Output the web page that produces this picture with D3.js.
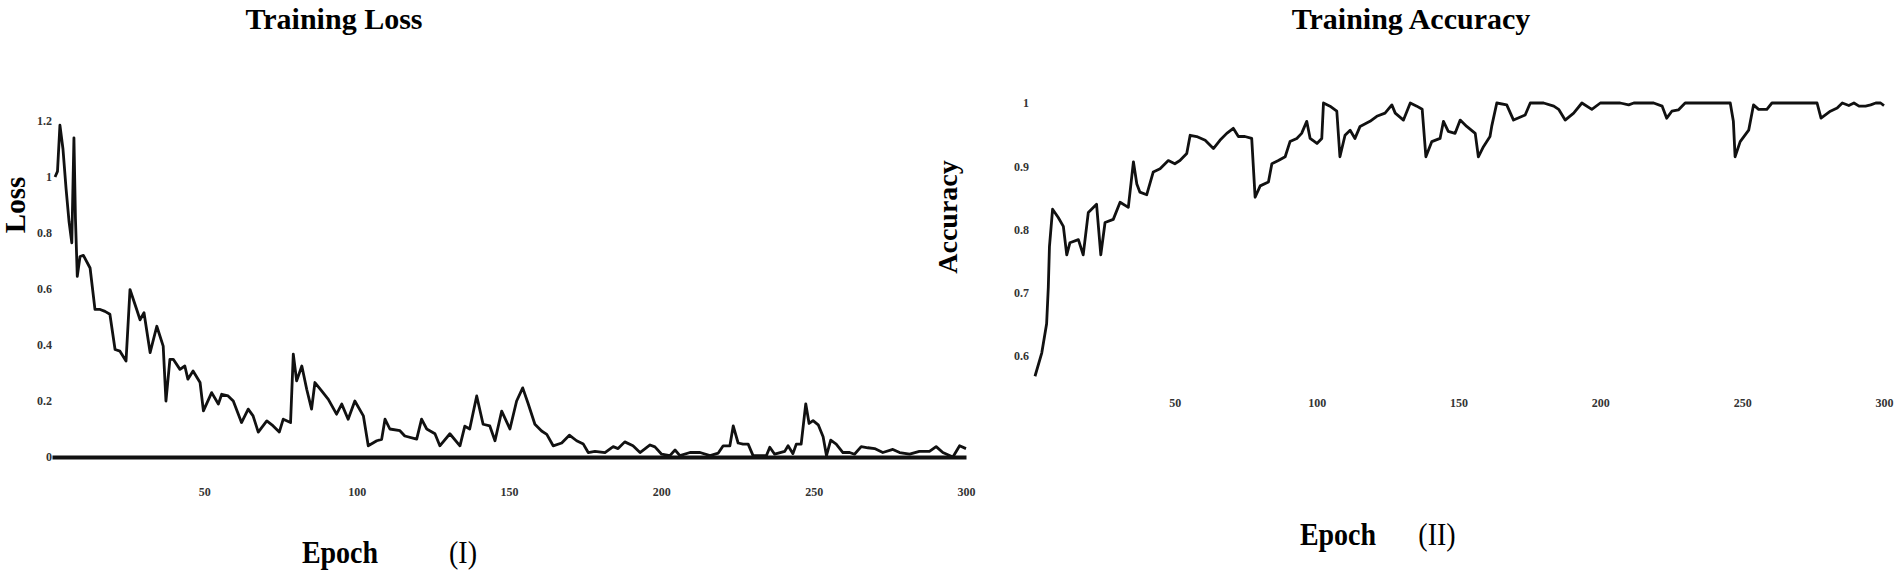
<!DOCTYPE html>
<html>
<head>
<meta charset="utf-8">
<script src="https://cdn.jsdelivr.net/npm/d3@7/dist/d3.min.js"></script>
<style>
  body { margin: 0; background: #fff; }
  svg { display: block; font-family: "Liberation Serif", "Times New Roman", serif; }
  .tick text { font-family: "Liberation Serif", "Times New Roman", serif; font-size: 12px; font-weight: bold; fill: #333; }
</style>
</head>
<body>
<svg id="chart" width="1901" height="574"></svg>
<script>
// values
const lossEpochs = [1, 1.8, 2.6, 3.6, 4.6, 5.6, 6.5, 7.2, 7.7, 8.3, 9.2, 10.3, 12.5, 14.1, 15.8, 17.4, 19, 20.7, 22.3, 24.3,
  25.6, 27.8, 28.9, 30.2, 32.2, 34.4, 36.5, 37.4, 38.7, 39.8, 42, 43.6, 44.6, 46.3, 48.6, 49.7, 52.4, 54.6, 55.7, 57.8,
  59.5, 62.2, 64.4, 66, 67.7, 70.5, 72.6, 74.6, 75.9, 78.3, 79.2, 80.3, 82, 83.6, 85.2, 86.3, 88.5, 90.7, 93.4, 95.1,
  97.2, 99.4, 102.2, 103.8, 106.6, 108.2, 109.3, 110.9, 114.2, 115.8, 119.7, 121.3, 123, 125.7, 127.3, 130.6, 133.9, 135.5, 137.1, 139.4,
  141.5, 143.7, 145.4, 147.6, 150.3, 152.5, 154.5, 156.3, 158.5, 160.7, 162.4, 164.5, 167.3, 169.8, 172.2, 174.4, 176, 178.2, 181.5, 184.2,
  185.8, 188, 190.7, 193, 196.3, 197.9, 200.1, 202.8, 204.5, 206.1, 209.4, 212.7, 216, 218.7, 220.3, 222.5, 223.6, 225.2, 226.8, 228.5,
  230.1, 234.5, 235.6, 237.2, 240.5, 241.6, 243.2, 244.3, 245.9, 247.4, 248.5, 249.8, 251.5, 253.1, 254.2, 255.6, 257.4, 259.6, 261.8, 263.4,
  265.6, 267.8, 270, 272.7, 276, 278.2, 281.5, 284.7, 288, 290.2, 292.4, 295.7, 297.9, 300]
const lossValues = [1.0, 1.02, 1.185, 1.1, 0.96, 0.84, 0.765, 1.14, 0.85, 0.645, 0.716, 0.72, 0.675, 0.527, 0.527, 0.52, 0.51, 0.384, 0.378, 0.343,
  0.598, 0.527, 0.49, 0.515, 0.373, 0.467, 0.396, 0.2, 0.349, 0.349, 0.313, 0.325, 0.278, 0.307, 0.266, 0.165, 0.23, 0.189, 0.224, 0.218,
  0.2, 0.123, 0.171, 0.147, 0.089, 0.129, 0.111, 0.089, 0.135, 0.123, 0.367, 0.272, 0.325, 0.242, 0.171, 0.266, 0.236, 0.206, 0.153, 0.189,
  0.135, 0.2, 0.147, 0.04, 0.058, 0.063, 0.135, 0.1, 0.094, 0.075, 0.064, 0.135, 0.1, 0.083, 0.04, 0.083, 0.04, 0.11, 0.1, 0.218,
  0.117, 0.111, 0.058, 0.164, 0.1, 0.2, 0.247, 0.19, 0.117, 0.093, 0.081, 0.04, 0.05, 0.078, 0.058, 0.046, 0.016, 0.02, 0.016, 0.037,
  0.03, 0.054, 0.04, 0.016, 0.043, 0.036, 0.01, 0.005, 0.025, 0.005, 0.016, 0.016, 0.005, 0.014, 0.04, 0.04, 0.111, 0.05, 0.046, 0.046,
  0.005, 0.005, 0.035, 0.01, 0.02, 0.04, 0.012, 0.046, 0.046, 0.19, 0.12, 0.13, 0.115, 0.072, 0.005, 0.06, 0.046, 0.016, 0.016, 0.01,
  0.037, 0.033, 0.03, 0.016, 0.027, 0.016, 0.01, 0.02, 0.02, 0.037, 0.016, 0, 0.04, 0.03]

const accEpochs = [0.7, 3.1, 4.8, 5.4, 5.8, 6.9, 8.9, 10.7, 11.9, 13, 16, 17.7, 19.5, 22.4, 23.9, 25.4, 28.3, 30.7, 33.6, 35.4,
  36.6, 37.7, 40.1, 42.4, 44.8, 47.7, 50, 51.8, 54.2, 55.4, 57.7, 60.7, 63.6, 65.9, 68.3, 70.6, 72.4, 74.7, 77.1, 78.3,
  80.1, 83, 84.2, 86.5, 88.9, 90.6, 93, 94.7, 96.5, 97.7, 100.1, 101.8, 102.4, 104.7, 107.1, 108.2, 110, 111.8, 113.5, 115.3,
  118.8, 121.2, 124.1, 126.5, 127.7, 130.6, 133, 135.3, 137.2, 138.5, 140.6, 143.5, 144.7, 146.4, 148.8, 150.6, 152.9, 155.9, 157, 158.8,
  161.1, 161.7, 163.5, 167, 169.4, 173.5, 175.3, 180, 183.6, 185.3, 187.6, 190.6, 193.5, 197, 200, 207, 210, 211.8, 218.8, 221.8,
  223.4, 225.2, 227.5, 229.9, 235.2, 245.8, 246.9, 247.5, 249.3, 252.3, 254, 255.8, 258.7, 260.5, 276.4, 277.8, 281.1, 283.5, 285.3, 287.6,
  289.4, 291.2, 293.5, 295.3, 297.1, 298.8, 300]
const accValues = [0.568, 0.605, 0.651, 0.709, 0.773, 0.832, 0.819, 0.805, 0.76, 0.779, 0.784, 0.76, 0.827, 0.84, 0.76, 0.811, 0.816, 0.843, 0.835, 0.907,
  0.872, 0.859, 0.855, 0.891, 0.896, 0.909, 0.904, 0.909, 0.92, 0.949, 0.947, 0.941, 0.928, 0.941, 0.952, 0.96, 0.947, 0.947, 0.944, 0.851,
  0.869, 0.875, 0.904, 0.909, 0.915, 0.939, 0.944, 0.952, 0.971, 0.944, 0.936, 0.944, 1.0, 0.995, 0.987, 0.915, 0.949, 0.957, 0.944, 0.963,
  0.971, 0.979, 0.984, 0.997, 0.984, 0.973, 1.0, 0.995, 0.99, 0.915, 0.939, 0.944, 0.971, 0.955, 0.952, 0.973, 0.963, 0.952, 0.915, 0.931,
  0.947, 0.963, 1.0, 0.997, 0.973, 0.981, 1.0, 1.0, 0.995, 0.99, 0.973, 0.984, 1.0, 0.99, 1.0, 1.0, 0.997, 1.0, 1.0, 0.995,
  0.976, 0.987, 0.989, 1.0, 1.0, 1.0, 0.971, 0.915, 0.939, 0.957, 0.997, 0.99, 0.99, 1.0, 1.0, 0.976, 0.987, 0.992, 1.0, 0.996,
  1.0, 0.995, 0.995, 0.997, 1.0, 1.0, 0.996]

const lossTicks = [0, 0.2, 0.4, 0.6, 0.8, 1, 1.2]
const accTicks = [0.6, 0.7, 0.8, 0.9, 1]
const epochTicks = [50, 100, 150, 200, 250, 300]

const svg = d3.select('#chart')
const fmt = d => String(+d.toFixed(1))

function drawLine(g, xs, ys, x, y, width) {
  const pts = xs.map((e, i) => [x(e), y(ys[i])])
  g.append('path')
    .attr('d', d3.line()(pts))
    .attr('fill', 'none')
    .attr('stroke', '#111')
    .attr('stroke-width', width)
    .attr('stroke-linejoin', 'round')
}

// ---- Training Loss (left) ----
const lossX = d3.scaleLinear().domain([0, 300]).range([52, 966])
const lossY = d3.scaleLinear().domain([0, 1.2]).range([457, 121])
const left = svg.append('g')

left.append('g')
  .attr('transform', 'translate(0,' + lossY(0) + ')')
  .call(d3.axisBottom(lossX).tickValues(epochTicks).tickSize(0).tickSizeOuter(0).tickPadding(30))
  .call(g => g.select('.domain').attr('stroke', '#111').attr('stroke-width', 4))

left.append('g')
  .attr('transform', 'translate(55,0)')
  .call(d3.axisLeft(lossY).tickValues(lossTicks).tickFormat(fmt).tickSize(0).tickPadding(3))
  .call(g => g.select('.domain').remove())

drawLine(left, lossEpochs, lossValues, lossX, lossY, 2.8)

left.append('text').attr('x', 334).attr('y', 29).attr('text-anchor', 'middle')
  .attr('font-size', 30).attr('font-weight', 'bold').text('Training Loss')
left.append('text').attr('transform', 'translate(25,205) rotate(-90)').attr('text-anchor', 'middle')
  .attr('font-size', 29).attr('font-weight', 'bold').text('Loss')
left.append('text').attr('transform', 'translate(340,563) scale(1,1.15)').attr('text-anchor', 'middle')
  .attr('font-size', 28).attr('font-weight', 'bold').text('Epoch')
left.append('text').attr('transform', 'translate(463,563) scale(1,1.1)').attr('text-anchor', 'middle')
  .attr('font-size', 28).text('(I)')

// ---- Training Accuracy (right) ----
const accX = d3.scaleLinear().domain([0, 300]).range([1033, 1884])
const accY = d3.scaleLinear().domain([0.6, 1]).range([356, 103])
const right = svg.append('g')

right.append('g')
  .attr('transform', 'translate(0,398)')
  .call(d3.axisBottom(accX).tickValues(epochTicks).tickSize(0).tickPadding(0))
  .call(g => g.select('.domain').remove())

right.append('g')
  .attr('transform', 'translate(1032,0)')
  .call(d3.axisLeft(accY).tickValues(accTicks).tickFormat(fmt).tickSize(0).tickPadding(3))
  .call(g => g.select('.domain').remove())

drawLine(right, accEpochs, accValues, accX, accY, 2.8)

right.append('text').attr('x', 1411).attr('y', 29).attr('text-anchor', 'middle')
  .attr('font-size', 30).attr('font-weight', 'bold').text('Training Accuracy')
right.append('text').attr('transform', 'translate(957,217) rotate(-90)').attr('text-anchor', 'middle')
  .attr('font-size', 28).attr('font-weight', 'bold').text('Accuracy')
right.append('text').attr('transform', 'translate(1338,545) scale(1,1.15)').attr('text-anchor', 'middle')
  .attr('font-size', 28).attr('font-weight', 'bold').text('Epoch')
right.append('text').attr('transform', 'translate(1437,545) scale(1,1.1)').attr('text-anchor', 'middle')
  .attr('font-size', 28).text('(II)')
</script>
</body>
</html>
